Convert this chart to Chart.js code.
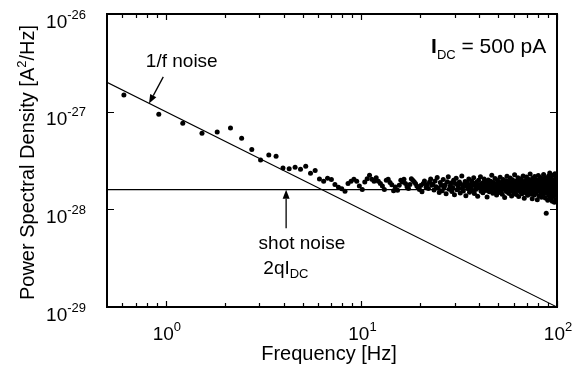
<!DOCTYPE html>
<html lang="en">
<head>
<meta charset="UTF-8">
<title>Power spectral density</title>
<script src="https://cdn.jsdelivr.net/npm/chart.js@4"></script>
<style>
  html, body { margin: 0; padding: 0; background: #fff; }
  canvas { display: block; }
</style>
</head>
<body>
<canvas id="psdChart" width="585" height="370"></canvas>
<script>
// measured spectrum (frequency in Hz, PSD in units of 1e-28 A^2/Hz)
const freqHz = [
  0.61,0.92,1.22,1.53,1.83,2.14,2.44,2.75,3.05,3.36,
  3.66,3.97,4.27,4.58,4.88,5.19,5.49,5.8,6.1,6.41,
  6.71,7.02,7.32,7.63,7.93,8.24,8.54,8.85,9.15,9.46,
  9.76,10.1,10.4,10.7,11.0,11.3,11.6,11.9,12.2,12.5,
  12.8,13.1,13.4,13.7,14.0,14.3,14.6,14.9,15.3,15.6,
  15.9,16.2,16.5,16.8,17.1,17.4,17.7,18.0,18.3,18.6,
  18.9,19.2,19.5,19.8,20.1,20.4,20.7,21.0,21.4,21.7,
  22.0,22.3,22.6,22.9,23.2,23.5,23.8,24.1,24.4,24.7,
  25.0,25.3,25.6,25.9,26.2,26.5,26.8,27.1,27.5,27.8,
  28.1,28.4,28.7,29.0,29.3,29.6,29.9,30.2,30.5,30.8,
  31.1,31.4,31.7,32.0,32.3,32.6,32.9,33.2,33.6,33.9,
  34.2,34.5,34.8,35.1,35.4,35.7,36.0,36.3,36.6,36.9,
  37.2,37.5,37.8,38.1,38.4,38.7,39.0,39.3,39.7,40.0,
  40.3,40.6,40.9,41.2,41.5,41.8,42.1,42.4,42.7,43.0,
  43.3,43.6,43.9,44.2,44.5,44.8,45.1,45.4,45.8,46.1,
  46.4,46.7,47.0,47.3,47.6,47.9,48.2,48.5,48.8,49.1,
  49.4,49.7,50.0,50.3,50.6,50.9,51.2,51.5,51.9,52.2,
  52.5,52.8,53.1,53.4,53.7,54.0,54.3,54.6,54.9,55.2,
  55.5,55.8,56.1,56.4,56.7,57.0,57.3,57.6,58.0,58.3,
  58.6,58.9,59.2,59.5,59.8,60.1,60.4,60.7,61.0,61.3,
  61.6,61.9,62.2,62.5,62.8,63.1,63.4,63.7,64.1,64.4,
  64.7,65.0,65.3,65.6,65.9,66.2,66.5,66.8,67.1,67.4,
  67.7,68.0,68.3,68.6,68.9,69.2,69.5,69.8,70.2,70.5,
  70.8,71.1,71.4,71.7,72.0,72.3,72.6,72.9,73.2,73.5,
  73.8,74.1,74.4,74.7,75.0,75.3,75.6,75.9,76.3,76.6,
  76.9,77.2,77.5,77.8,78.1,78.4,78.7,79.0,79.3,79.6,
  79.9,80.2,80.5,80.8,81.1,81.4,81.7,82.0,82.4,82.7,
  83.0,83.3,83.6,83.9,84.2,84.5,84.8,85.1,85.4,85.7,
  86.0,86.3,86.6,86.9,87.2,87.5,87.8,88.1,88.5,88.8,
  89.1,89.4,89.7,90.0,90.3,90.6,90.9,91.2,91.5,91.8,
  92.1,92.4,92.7,93.0,93.3,93.6,93.9,94.2,94.6,94.9,
  95.2,95.5,95.8,96.1,96.4,96.7,97.0,97.3,97.6,97.9,
  98.2,98.5,98.8,99.1,99.4,99.7
];
const psdE28 = [
  14.8,9.4,7.6,6.0,6.2,6.8,5.35,4.1,3.2,3.6,
  3.5,2.65,2.6,2.7,2.57,2.76,2.34,2.5,2.05,1.94,
  2.08,2.02,1.8,1.68,1.62,1.53,1.84,1.94,2.03,1.94,
  1.73,1.60,1.91,2.06,2.23,2.03,1.94,2.10,1.94,1.84,
  1.73,1.60,1.98,2.03,1.88,1.79,1.55,1.69,1.57,1.76,
  1.98,1.90,2.03,1.84,1.70,1.63,1.80,2.06,1.98,1.92,
  1.84,1.73,1.66,1.60,1.75,1.51,1.84,1.95,1.69,1.80,
  1.63,1.90,2.05,1.76,1.82,1.58,1.95,1.70,2.12,1.64,
  1.49,1.88,1.76,1.55,2.02,1.68,1.79,1.44,1.92,2.15,
  1.61,1.73,1.86,1.52,1.67,1.98,1.41,1.84,2.08,1.59,
  1.75,1.63,1.90,1.47,1.81,2.20,1.66,1.54,1.77,1.93,
  1.38,1.71,1.87,1.62,2.04,1.50,1.78,1.69,1.95,1.57,
  1.83,2.10,1.45,1.74,1.60,1.89,1.72,1.36,1.98,1.65,
  1.80,2.16,1.53,1.70,1.86,1.48,1.77,2.05,1.62,1.91,
  1.56,1.73,1.34,1.84,2.00,1.67,1.51,1.79,1.94,1.58,
  2.24,1.71,1.46,1.88,1.64,1.76,2.07,1.53,1.82,1.40,
  1.69,1.97,1.60,1.85,1.49,1.74,2.13,1.66,1.57,1.90,
  1.43,1.78,2.02,1.62,1.71,1.32,1.87,1.55,1.96,1.68,
  2.18,1.50,1.80,1.64,1.92,1.45,1.75,2.09,1.59,1.70,
  1.37,1.86,2.01,1.54,1.81,1.66,1.48,2.26,1.73,1.60,
  1.94,1.42,1.77,1.89,1.56,2.11,1.69,1.35,1.83,1.63,
  1.99,1.51,1.74,2.06,1.58,1.44,1.90,1.67,2.19,1.53,
  1.79,1.30,1.85,1.62,1.97,1.70,1.47,2.14,1.57,1.82,
  1.39,1.76,2.03,1.61,1.88,1.50,1.72,2.30,1.55,1.93,
  1.43,1.68,1.84,1.28,2.08,1.64,1.78,1.52,1.96,1.40,
  2.17,1.71,1.58,1.87,1.46,1.80,2.00,1.63,1.25,1.91,
  1.69,2.22,1.54,1.75,1.37,1.98,1.60,1.83,2.12,1.48,
  1.73,1.33,1.89,1.65,2.05,1.56,1.78,1.42,2.27,1.61,
  1.94,1.50,1.70,1.86,1.31,2.10,1.59,0.91,1.81,1.45,
  2.01,1.66,1.24,1.90,1.55,2.20,1.72,1.38,1.84,2.35,
  1.49,1.63,1.97,1.28,1.76,2.08,1.43,1.69,1.21,1.92,
  1.58,2.24,1.35,1.80,1.52,1.99,1.18,1.74,2.31,1.61,
  1.40,1.87,1.26,2.13,1.48,1.70
];

// 1/f fit line and shot noise level (2qI_DC)
const fitFreq = [0.5, 100];
const fitPsd = [2e-27, 1e-29];
const shotFreq = [0.5, 100];
const shotPsd = [1.59e-28, 1.59e-28];

// axes
const xMin = 0.5, xMax = 100;
const yMin = 1e-29, yMax = 1e-26;
const xMajorTicks = [1, 10, 100];
const xTickExp = ['0', '1', '2'];
const xMinorTicks = [0.6, 0.7, 0.8, 0.9, 2, 3, 4, 5, 6, 7, 8, 9, 20, 30, 40, 50, 60, 70, 80, 90];
const yMajorTicks = [1e-29, 1e-28, 1e-27, 1e-26];
const yTickExp = ['-29', '-28', '-27', '-26'];

const FONT = '"Liberation Sans", Arial, Helvetica, sans-serif';
function font(size, bold) { return (bold ? 'bold ' : '') + size + 'px ' + FONT; }

// text made of runs: [text, size, baseline shift, bold]
function drawRuns(ctx, runs, x, y, align) {
  let w = 0;
  runs.forEach(r => { ctx.font = font(r[1], r[3]); w += ctx.measureText(r[0]).width; });
  let cx = align === 'right' ? x - w : (align === 'center' ? x - w / 2 : x);
  runs.forEach(r => {
    ctx.font = font(r[1], r[3]);
    ctx.fillText(r[0], cx, y + r[2]);
    cx += ctx.measureText(r[0]).width;
  });
}

const notes = [
  { runs: [['1/f noise', 19, 0]], f: 0.79, s: 2.84e-27, align: 'left' },
  { runs: [['shot noise', 19, 0]], f: 2.98, s: 3.95e-29, align: 'left' },
  { runs: [['2qI', 19, 0], ['DC', 13, 4]], f: 3.15, s: 2.19e-29, align: 'left' },
  { runs: [['I', 21, 0, true], ['DC', 13, 6], [' = 500 pA', 21, 0]], f: 88, s: 3.96e-27, align: 'right' }
];
const arrows = [
  { from: [0.97, 2.27e-27], to: [0.82, 1.21e-27] },
  { from: [4.12, 6.4e-29], to: [4.12, 1.59e-28] }
];

const decor = {
  id: 'decor',
  afterDatasetsDraw(chart) {
    const { ctx, chartArea: a, scales: { x, y } } = chart;
    ctx.save();
    ctx.strokeStyle = '#000';
    ctx.fillStyle = '#000';
    ctx.textBaseline = 'alphabetic';
    ctx.textAlign = 'left';

    // frame
    ctx.lineWidth = 2;
    ctx.strokeRect(a.left, a.top, a.right - a.left, a.bottom - a.top);

    // inward ticks
    ctx.lineWidth = 1.2;
    ctx.beginPath();
    xMinorTicks.forEach(v => {
      const px = Math.round(x.getPixelForValue(v)) + 0.5;
      ctx.moveTo(px, a.bottom); ctx.lineTo(px, a.bottom - 4);
      ctx.moveTo(px, a.top); ctx.lineTo(px, a.top + 4);
    });
    xMajorTicks.forEach(v => {
      const px = Math.round(x.getPixelForValue(v)) + 0.5;
      ctx.moveTo(px, a.bottom); ctx.lineTo(px, a.bottom - 6);
      ctx.moveTo(px, a.top); ctx.lineTo(px, a.top + 6);
    });
    yMajorTicks.forEach(v => {
      const py = Math.round(y.getPixelForValue(v)) + 0.5;
      ctx.moveTo(a.left, py); ctx.lineTo(a.left + 7, py);
      ctx.moveTo(a.right, py); ctx.lineTo(a.right - 7, py);
    });
    ctx.stroke();

    // tick labels
    xMajorTicks.forEach((v, i) => {
      drawRuns(ctx, [['10', 19, 0], [xTickExp[i], 13, -9]], x.getPixelForValue(v) + 1, a.bottom + 33, 'center');
    });
    yMajorTicks.forEach((v, i) => {
      drawRuns(ctx, [['10', 19, 0], [yTickExp[i], 13, -9]], a.left - 21, y.getPixelForValue(v) + 13.5, 'right');
    });

    // axis titles
    drawRuns(ctx, [['Frequency [Hz]', 20, 0]], (a.left + a.right) / 2 - 3, a.bottom + 53, 'center');
    ctx.save();
    ctx.translate(34, (a.top + a.bottom) / 2 + 2);
    ctx.rotate(-Math.PI / 2);
    drawRuns(ctx, [['Power Spectral Density [A', 20, 0], ['2', 13, -8], ['/Hz]', 20, 0]], 0, 0, 'center');
    ctx.restore();

    // annotations
    notes.forEach(n => drawRuns(ctx, n.runs, x.getPixelForValue(n.f), y.getPixelForValue(n.s), n.align));
    ctx.lineWidth = 1.3;
    arrows.forEach(ar => {
      const x0 = x.getPixelForValue(ar.from[0]), y0 = y.getPixelForValue(ar.from[1]);
      const x1 = x.getPixelForValue(ar.to[0]), y1 = y.getPixelForValue(ar.to[1]);
      const ang = Math.atan2(y1 - y0, x1 - x0);
      const len = 9, half = 3.5;
      const bx = x1 - len * Math.cos(ang), by = y1 - len * Math.sin(ang);
      ctx.beginPath();
      ctx.moveTo(x0, y0); ctx.lineTo(bx, by);
      ctx.stroke();
      ctx.beginPath();
      ctx.moveTo(x1, y1);
      ctx.lineTo(bx + half * Math.sin(ang), by - half * Math.cos(ang));
      ctx.lineTo(bx - half * Math.sin(ang), by + half * Math.cos(ang));
      ctx.closePath();
      ctx.fill();
    });
    ctx.restore();
  }
};

const ctx = document.getElementById('psdChart').getContext('2d');
new Chart(ctx, {
  type: 'scatter',
  data: {
    datasets: [{
      label: 'PSD',
      data: freqHz.map((f, i) => ({ x: f, y: psdE28[i] * 1e-28 })),
      backgroundColor: '#000',
      borderWidth: 0,
      pointRadius: 2.5
    }, {
      label: '1/f noise',
      data: fitFreq.map((f, i) => ({ x: f, y: fitPsd[i] })),
      showLine: true,
      borderColor: '#000',
      borderWidth: 1.1,
      pointRadius: 0
    }, {
      label: 'shot noise',
      data: shotFreq.map((f, i) => ({ x: f, y: shotPsd[i] })),
      showLine: true,
      borderColor: '#000',
      borderWidth: 1.1,
      pointRadius: 0
    }]
  },
  options: {
    responsive: false,
    animation: false,
    devicePixelRatio: 1,
    layout: { padding: { left: 107, right: 28, top: 14, bottom: 63 } },
    plugins: { legend: { display: false }, tooltip: { enabled: false } },
    scales: {
      x: { type: 'logarithmic', min: xMin, max: xMax, display: false },
      y: { type: 'logarithmic', min: yMin, max: yMax, display: false }
    }
  },
  plugins: [decor]
});
</script>
</body>
</html>
